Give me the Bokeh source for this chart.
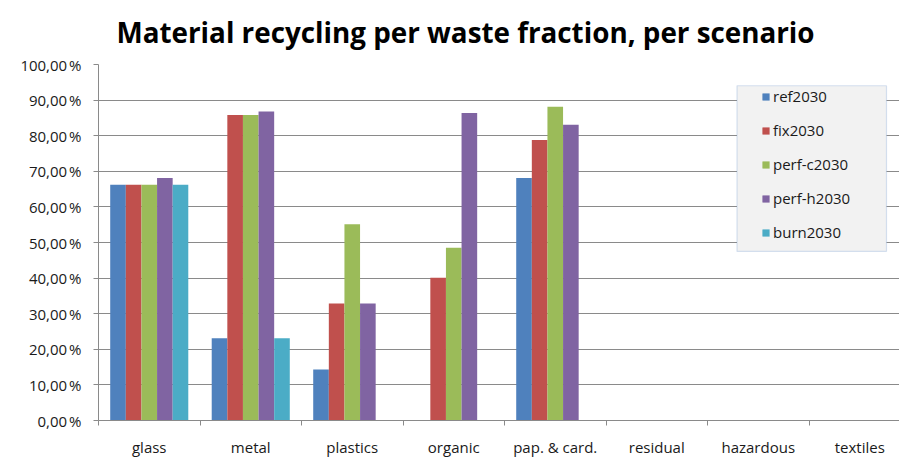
from bokeh.plotting import figure
from bokeh.models import (ColumnDataSource, Range1d, FixedTicker, Legend, LegendItem,
                          BoxAnnotation, Title)
from bokeh.embed import file_html
from bokeh.resources import INLINE

# Waste fractions (categories) and recycling rates per scenario (fractions of 1)
fractions = ["glass", "metal", "plastics", "organic", "pap. & card.",
             "residual", "hazardous", "textiles"]
scenarios = ["ref2030", "fix2030", "perf-c2030", "perf-h2030", "burn2030"]

ref2030 = [0.662, 0.231, 0.143, 0.0, 0.681, 0.0, 0.0, 0.0]
fix2030 = [0.662, 0.858, 0.329, 0.401, 0.788, 0.0, 0.0, 0.0]
perf_c2030 = [0.662, 0.858, 0.551, 0.485, 0.881, 0.0, 0.0, 0.0]
perf_h2030 = [0.681, 0.868, 0.329, 0.864, 0.831, 0.0, 0.0, 0.0]
burn2030 = [0.662, 0.231, 0.0, 0.0, 0.0, 0.0, 0.0, 0.0]

y_ticks = [0.0, 0.1, 0.2, 0.3, 0.4, 0.5, 0.6, 0.7, 0.8, 0.9, 1.0]
y_tick_labels = ["0,00\u202f%", "10,00\u202f%", "20,00\u202f%", "30,00\u202f%", "40,00\u202f%",
                 "50,00\u202f%", "60,00\u202f%", "70,00\u202f%", "80,00\u202f%", "90,00\u202f%",
                 "100,00\u202f%"]

series = [ref2030, fix2030, perf_c2030, perf_h2030, burn2030]
colors = ["#4F81BD", "#C0504D", "#9BBB59", "#8064A2", "#4BACC6"]

FONT = "Open Sans"
TEXT = "#1a1a1a"
GRID = "#8a8a8a"

n = len(fractions)
bar_w = 1.0 / 6.5          # five bars plus a 150 % gap per category
centers = [i + 0.5 for i in range(n)]

p = figure(width=899, height=459, output_backend="svg", toolbar_location=None,
           x_range=Range1d(0, 801 / 101.5), y_range=Range1d(0, 1.0),
           min_border_left=98, min_border_right=0, min_border_top=64,
           min_border_bottom=35)
p.outline_line_color = None
p.background_fill_color = "white"
p.border_fill_color = "white"

title = Title(text="Material recycling per waste fraction, per scenario",
              text_font=FONT, text_font_size="27.8px", text_font_style="bold",
              text_color="#000000", align="left", offset=18, standoff=24,
              vertical_align="top")
p.add_layout(title, "above")

renderers = []
for k, (vals, col) in enumerate(zip(series, colors)):
    xs = [c + (k - 2) * bar_w for c in centers]
    src = ColumnDataSource(dict(x=xs, top=vals))
    r = p.vbar(x="x", top="top", bottom=0, width=bar_w, source=src,
               fill_color=col, line_color=None)
    renderers.append(r)

# Axes
p.yaxis.ticker = FixedTicker(ticks=y_ticks)
p.yaxis.major_label_overrides = {t: lab for t, lab in zip(y_ticks, y_tick_labels)}
p.yaxis.minor_tick_line_color = None
p.yaxis.major_tick_out = 5
p.yaxis.major_tick_in = 0
p.yaxis.major_tick_line_color = GRID
p.yaxis.axis_line_color = GRID
p.yaxis.major_label_text_font = FONT
p.yaxis.major_label_text_font_size = "15px"
p.yaxis.major_label_text_color = TEXT
p.yaxis.major_label_standoff = 12

p.xaxis.ticker = FixedTicker(ticks=centers, minor_ticks=list(range(n + 1)))
p.xaxis.major_label_overrides = {c: f for c, f in zip(centers, fractions)}
p.xaxis.major_tick_line_color = None
p.xaxis.major_tick_out = 0
p.xaxis.major_tick_in = 0
p.xaxis.minor_tick_out = 5
p.xaxis.minor_tick_in = 0
p.xaxis.minor_tick_line_color = GRID
p.xaxis.axis_line_color = GRID
p.xaxis.major_label_text_font = FONT
p.xaxis.major_label_text_font_size = "15px"
p.xaxis.major_label_text_color = TEXT
p.xaxis.major_label_standoff = 11

p.xgrid.grid_line_color = None
p.ygrid.grid_line_color = GRID
p.ygrid.grid_line_width = 1

# Legend frame
x_scale = 101.5
y_scale = 360.0
box = BoxAnnotation(left=(736.5 - 98) / x_scale, right=(886 - 98) / x_scale,
                    top=(424 - 85.5) / y_scale, bottom=(424 - 253) / y_scale,
                    fill_color="#f2f2f2", fill_alpha=1.0,
                    line_color="#7fa1d3", line_width=1.2, level="overlay")
p.add_layout(box)

legend = Legend(items=[LegendItem(label=s, renderers=[r]) for s, r in zip(scenarios, renderers)],
                location=(663, 178), orientation="vertical",
                label_text_font=FONT, label_text_font_size="15px", label_text_color=TEXT,
                glyph_width=9, glyph_height=9, label_standoff=3,
                label_height=20, spacing=14, padding=0, margin=0,
                border_line_alpha=0, background_fill_alpha=0)
p.add_layout(legend)

open("out.html", "w").write(file_html(p, INLINE))
